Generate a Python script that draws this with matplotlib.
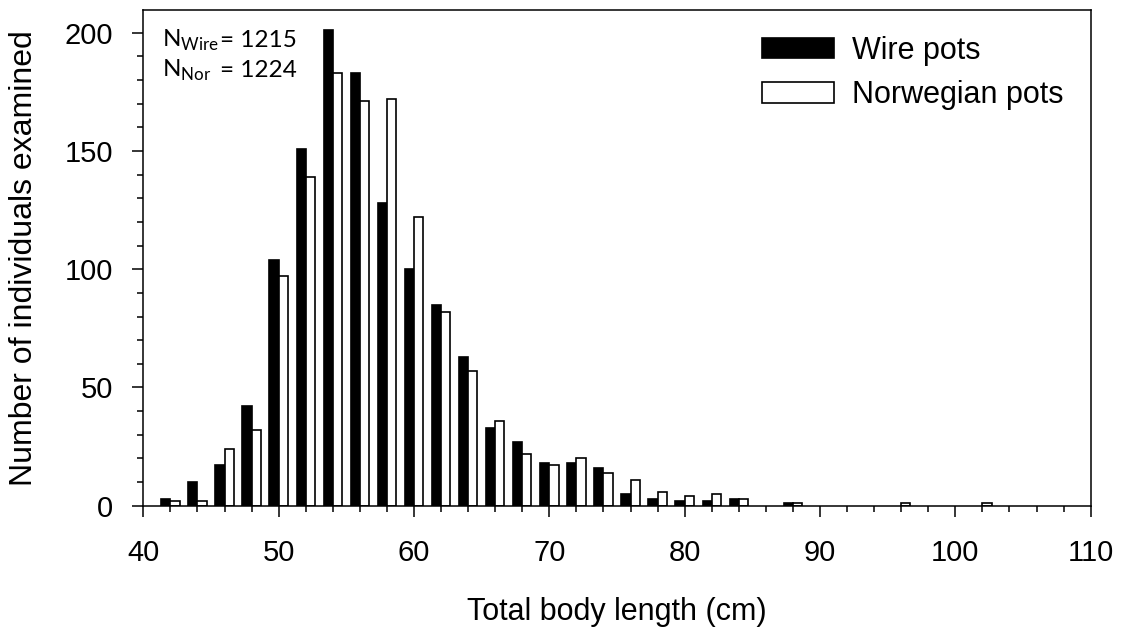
import matplotlib
matplotlib.use("Agg")
import matplotlib.pyplot as plt
import numpy as np
from matplotlib.ticker import MultipleLocator
from matplotlib.patches import Patch

lengths = [42, 44, 46, 48, 50, 52, 54, 56, 58, 60, 62, 64, 66, 68, 70, 72, 74,
           76, 78, 80, 82, 84, 86, 88, 90, 92, 94, 96, 98, 100, 102]
wire = [3, 10, 17, 42, 104, 151, 201, 183, 128, 100, 85, 63, 33, 27, 18, 18, 16,
        5, 3, 2, 2, 3, 0, 1, 0, 0, 0, 0, 0, 0, 0]
norwegian = [2, 2, 24, 32, 97, 139, 183, 171, 172, 122, 82, 57, 36, 22, 17, 20, 14,
             11, 6, 4, 5, 3, 0, 1, 0, 0, 0, 1, 0, 0, 1]
series_labels = ["Wire pots", "Norwegian pots"]
n_wire = 1215
n_nor = 1224

plt.rcParams['font.family'] = ['Liberation Sans', 'DejaVu Sans']

W, H = 1122, 635
fig = plt.figure(figsize=(W / 100, H / 100), dpi=100)
ax = fig.add_axes([143.3 / W, 1 - 505.7 / H, (1090.7 - 143.3) / W, (505.7 - 10) / H])

def fx(px):
    return px / W

def fy(py):
    return 1 - py / H

x = np.array(lengths, dtype=float)
bw = 0.68
lw = 1.2
wv = np.array(wire, dtype=float)
nv = np.array(norwegian, dtype=float)
mw = wv > 0
mn = nv > 0
ax.bar(x[mw] - bw, wv[mw], width=bw, align='edge', color='black', edgecolor='black', linewidth=lw)
ax.bar(x[mn], nv[mn], width=bw, align='edge', color='white', edgecolor='black', linewidth=lw)

ax.set_xlim(40, 110)
ax.set_ylim(0, 209.6)
ax.xaxis.set_major_locator(MultipleLocator(10))
ax.xaxis.set_minor_locator(MultipleLocator(2))
ax.yaxis.set_major_locator(MultipleLocator(50))
ax.yaxis.set_minor_locator(MultipleLocator(10))

for s in ax.spines.values():
    s.set_linewidth(1.1)

ax.tick_params(axis='both', which='major', direction='out', length=8, width=1.1, labelsize=21)
ax.tick_params(axis='both', which='minor', direction='out', length=4.5, width=1.1)
ax.tick_params(axis='x', which='major', pad=16)
ax.tick_params(axis='y', which='major', pad=13.5)

ax.set_xlabel("Total body length (cm)", fontsize=22)
ax.set_ylabel("Number of individuals examined", fontsize=23)
ax.xaxis.set_label_coords(fx(617), fy(612), transform=fig.transFigure)
ax.yaxis.set_label_coords(fx(24), fy(258), transform=fig.transFigure)
ax.xaxis.label.set_va('center')
ax.yaxis.label.set_va('center')

nfs = 17.5
fig.text(fx(162), fy(47), r"N$_{\mathregular{Wire}}$", fontsize=nfs, family='Lato', va='baseline', ha='left')
fig.text(fx(220), fy(47), "= %d" % n_wire, fontsize=nfs, family='Lato', va='baseline', ha='left')
fig.text(fx(162), fy(77), r"N$_{\mathregular{Nor}}$", fontsize=nfs, family='Lato', va='baseline', ha='left')
fig.text(fx(220), fy(77), "= %d" % n_nor, fontsize=nfs, family='Lato', va='baseline', ha='left')

handles = [Patch(facecolor='black', edgecolor='black', linewidth=lw),
           Patch(facecolor='white', edgecolor='black', linewidth=lw)]
ax.legend(handles, series_labels, loc='upper left', bbox_to_anchor=(fx(762), fy(36)),
          bbox_transform=fig.transFigure, frameon=False, fontsize=22,
          handlelength=2.35, handleheight=0.65, handletextpad=0.59, labelspacing=0.47,
          borderpad=0, borderaxespad=0)

fig.savefig("out.png", dpi=100)
